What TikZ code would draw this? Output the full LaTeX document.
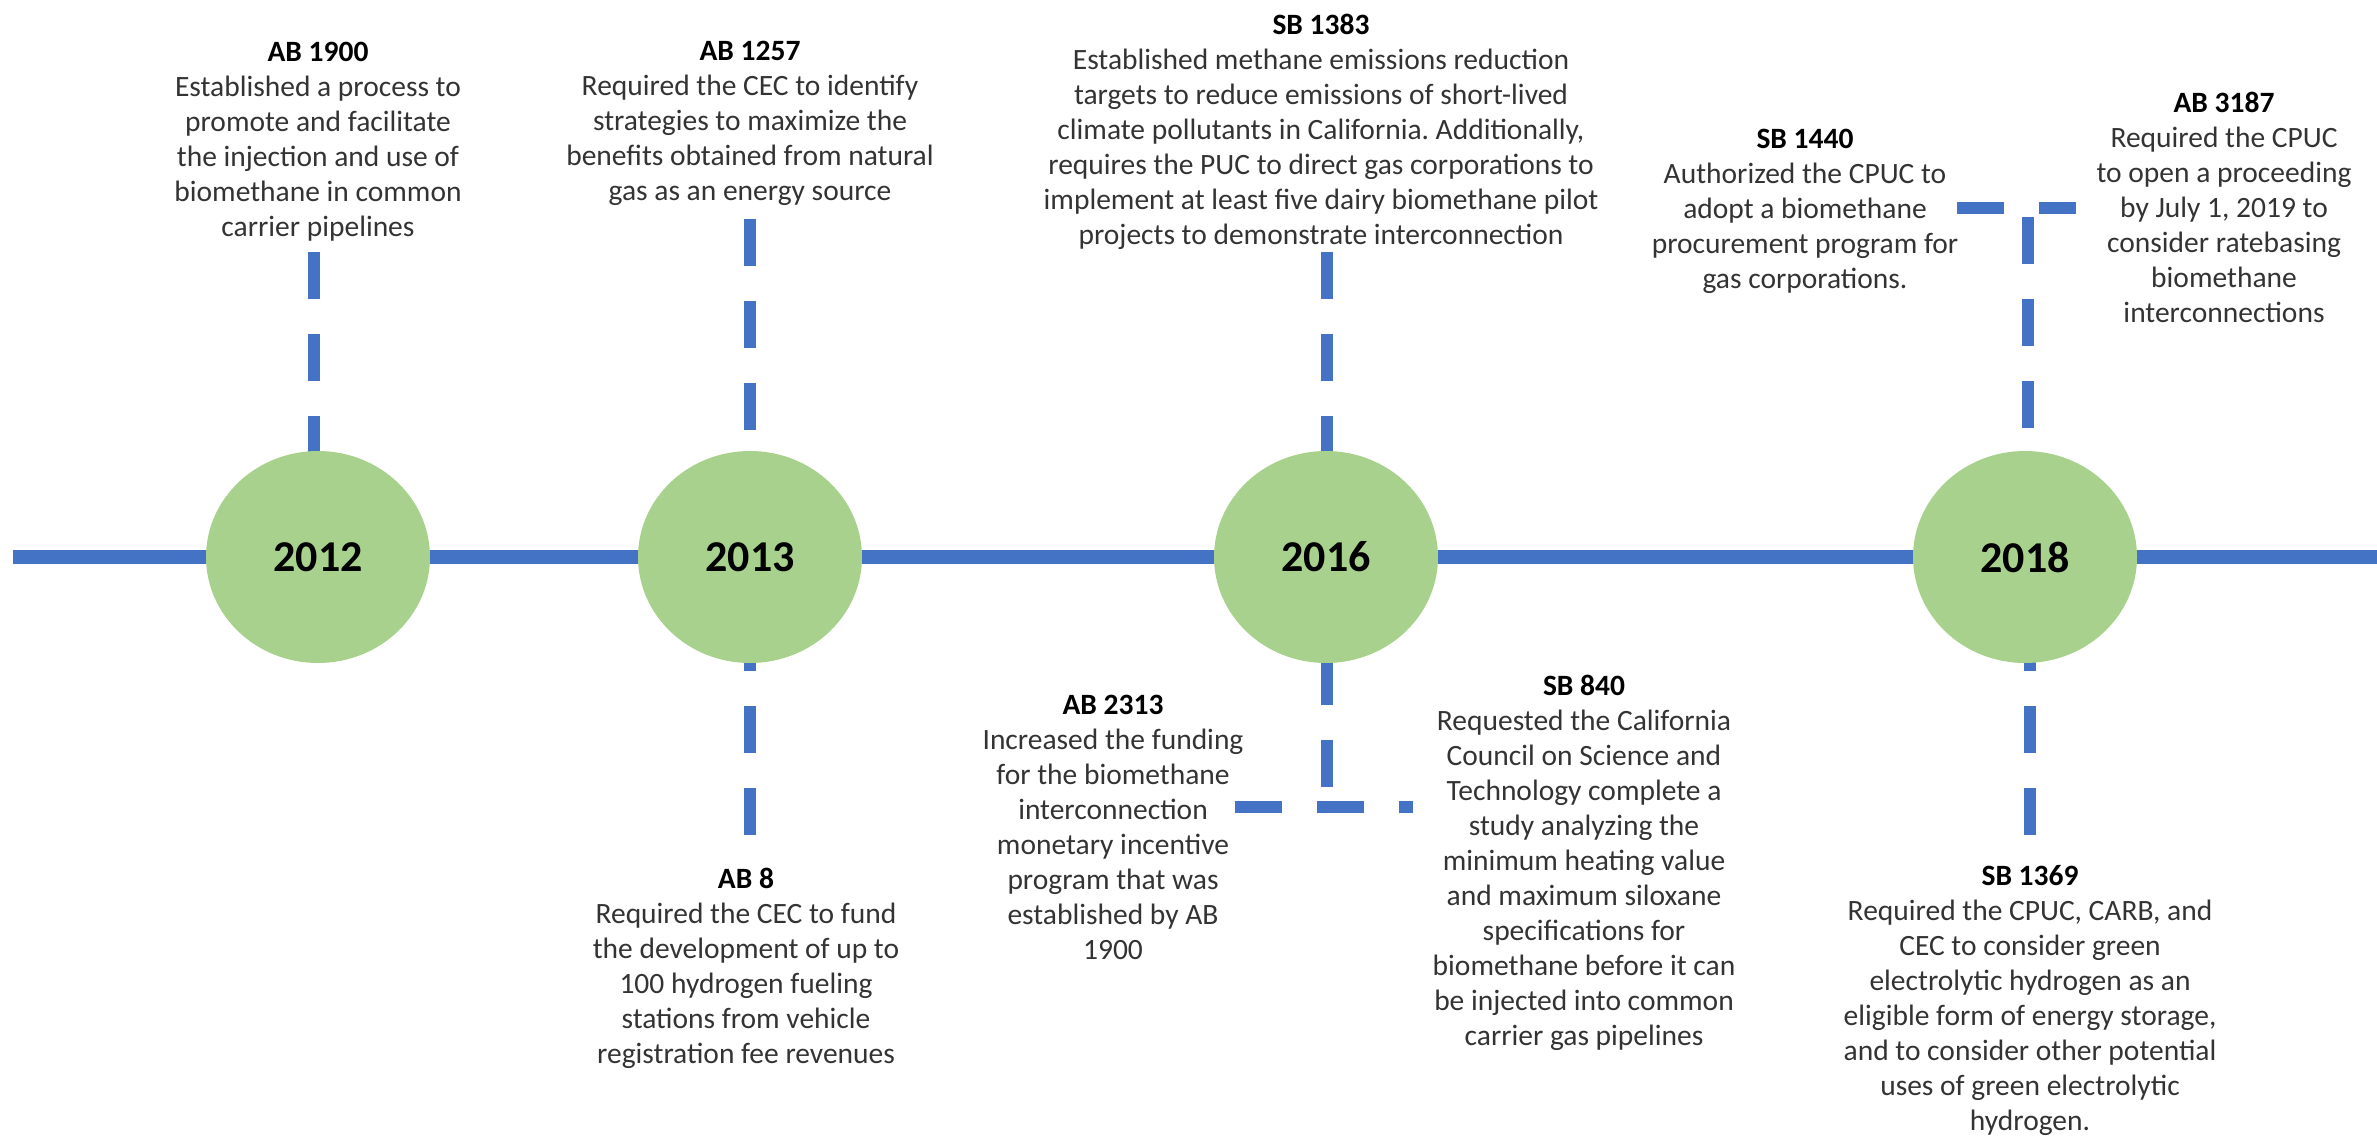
\documentclass[tikz,border=0pt]{standalone}
\usepackage{fontspec}
\setmainfont{Carlito}
\usetikzlibrary{calc,shapes.geometric,backgrounds}

\definecolor{lineblue}{HTML}{4472C4}
\definecolor{yeargreen}{HTML}{A9D18E}
\definecolor{bodytext}{HTML}{333333}

\begin{document}
\frenchspacing
\begin{tikzpicture}[x=1pt,y=-1pt,
  timeline/.style={draw=lineblue,line width=14pt},
  link/.style={draw=lineblue,line width=12pt,dash pattern=on 47pt off 35pt},
  year/.style={ellipse,fill=yeargreen,minimum width=224pt,minimum height=212pt,
    inner sep=0pt,font=\fontsize{44}{50}\selectfont\bfseries,text=black},
  bill/.style={anchor=north,align=center,inner sep=0pt,
    font=\fontsize{29.5}{35}\selectfont,text=bodytext},
]
\path[use as bounding box] (0,0) rectangle (2377,1137);
\clip (0,0) rectangle (2377,1137);

% year markers
\node[year] (y2012) at (318,557)  {2012};
\node[year] (y2013) at (750,557)  {2013};
\node[year] (y2016) at (1326,557) {2016};
\node[year] (y2018) at (2025,557) {2018};

% bill descriptions
\node[bill] (ab1900) at (318,42) {\textcolor{black}{\textbf{AB 1900}}\\
  Established a process to\\ promote and facilitate\\ the injection and use of\\
  biomethane in common\\ carrier pipelines};
\node[bill] (ab1257) at (750,41) {\textcolor{black}{\textbf{AB 1257}}\\
  Required the CEC to identify\\ strategies to maximize the\\
  benefits obtained from natural\\ gas as an energy source};
\node[bill] (sb1383) at (1321,14) {\textcolor{black}{\textbf{SB 1383}}\\
  Established methane emissions reduction\\ targets to reduce emissions of short-lived\\
  climate pollutants in California. Additionally,\\ requires the PUC to direct gas corporations to\\
  implement at least five dairy biomethane pilot\\ projects to demonstrate interconnection};
\node[bill] (sb1440) at (1805,129) {\textcolor{black}{\textbf{SB 1440}}\\
  Authorized the CPUC to\\ adopt a biomethane\\ procurement program for\\ gas corporations.};
\node[bill] (ab3187) at (2224,92) {\textcolor{black}{\textbf{AB 3187}}\\
  Required the CPUC\\ to open a proceeding\\ by July 1, 2019 to\\ consider ratebasing\\
  biomethane\\ interconnections};
\node[bill] (ab8) at (746,868) {\textcolor{black}{\textbf{AB 8}}\\
  Required the CEC to fund\\ the development of up to\\ 100 hydrogen fueling\\
  stations from vehicle\\ registration fee revenues};
\node[bill] (ab2313) at (1113,695) {\textcolor{black}{\textbf{AB 2313}}\\
  Increased the funding\\ for the biomethane\\ interconnection\\ monetary incentive\\
  program that was\\ established by AB\\ 1900};
\node[bill] (sb840) at (1584,675) {\textcolor{black}{\textbf{SB 840}}\\
  Requested the California\\ Council on Science and\\ Technology complete a\\
  study analyzing the\\ minimum heating value\\ and maximum siloxane\\
  specifications for\\ biomethane before it can\\ be injected into common\\
  carrier gas pipelines};
\node[bill] (sb1369) at (2030,865) {\textcolor{black}{\textbf{SB 1369}}\\
  Required the CPUC, CARB, and\\ CEC to consider green\\ electrolytic hydrogen as an\\
  eligible form of energy storage,\\ and to consider other potential\\
  uses of green electrolytic\\ hydrogen.};

% free ends of the dashed leaders
\coordinate (l2012)  at (314,252);
\coordinate (l2013a) at (750,219);
\coordinate (l2013b) at (750,835);
\coordinate (l2016a) at (1327,252);
\coordinate (l2016b) at (1327,787);
\coordinate (h2016a) at (1235,807);
\coordinate (h2016b) at (1413,807);
\coordinate (l2018a) at (2028,217);
\coordinate (l2018b) at (2030,835);
\coordinate (h2018a) at (1957,208);
\coordinate (h2018b) at (2076,208);
\coordinate (tstart) at (13,557);
\coordinate (tend)   at (2377,557);

\begin{scope}[on background layer]
  \draw[timeline] (tstart) -- (y2012.center) -- (y2013.center) -- (y2016.center)
    -- (y2018.center) -- (tend);
  \draw[link] (l2012)  -- (l2012 |- y2012.center);
  \draw[link] (l2013a) -- (l2013a |- y2013.center);
  \draw[link] (l2013b) -- (l2013b |- y2013.center);
  \draw[link] (l2016a) -- (l2016a |- y2016.center);
  \draw[link] (l2016b) -- (l2016b |- y2016.center);
  \draw[link] (h2016a) -- (h2016b);
  \draw[link] (l2018a) -- (l2018a |- y2018.center);
  \draw[link] (l2018b) -- (l2018b |- y2018.center);
  \draw[link] (h2018a) -- (h2018b);
\end{scope}
\end{tikzpicture}
\end{document}
